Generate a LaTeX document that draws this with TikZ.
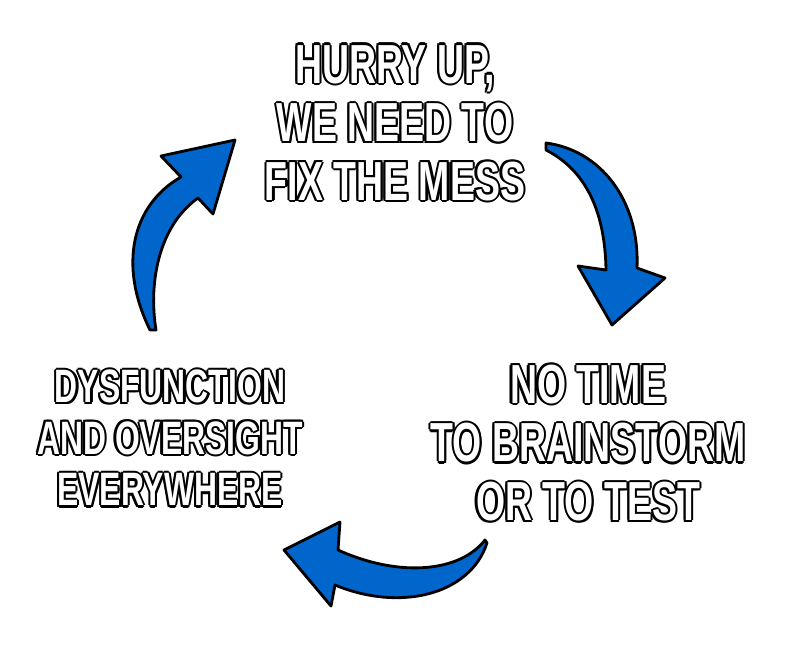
\documentclass[tikz,border=0pt]{standalone}
\usepackage{fontspec}
\setmainfont{Liberation Sans}[FakeStretch=0.68]
\usetikzlibrary{positioning}
\definecolor{arrowblue}{RGB}{0,102,204}
\tikzset{
    cyclearrow/.style = {draw=black, line width=2.4pt, line join=round, fill=arrowblue},
    memetext/.style = {align=center, inner sep=0pt, font=\bfseries\fontsize{47}{50}\selectfont},
    smalltext/.style = {memetext, font=\bfseries\fontsize{40}{44}\selectfont}
}
% outlined caption: black copies all round, white text on top
\newcommand{\outlined}[4]{%
  \foreach \dx/\dy in {1.8/0,-1.8/0,0/1.8,0/-1.8,1.3/1.3,-1.3/1.3,1.3/-1.3,-1.3/-1.3}
    \node[#1, text=black, xshift=\dx pt, yshift=\dy pt] at (#2) {#4};
  \node[#1, text=white] (#3) at (#2) {#4};}

\begin{document}
\begin{tikzpicture}[x=0.03cm, y=-0.03cm]
\useasboundingbox (0,0) rectangle (788,651);

% arrows
\draw[cyclearrow] (546,143) .. controls (600,150) and (640,200) .. (637,268)
    -- (665,278) -- (612,325) -- (578,266) -- (606,270)
    .. controls (605,210) and (585,170) .. (546,150) -- cycle;
\draw[cyclearrow] (150,330) .. controls (118,265) and (132,205) .. (181,177)
    -- (161,156) -- (235,140) -- (213,214) -- (198,198)
    .. controls (160,225) and (148,280) .. (156,330) -- cycle;
\draw[cyclearrow] (487,543) .. controls (470,595) and (400,612) .. (335,585)
    -- (331,606) -- (284,550) -- (340,522) -- (338,550)
    .. controls (400,578) and (460,572) .. (485,540) -- cycle;

% captions
\outlined{memetext}{395,123}{Hurry}{HURRY UP,\\WE NEED TO\\FIX THE MESS}
\outlined{memetext}{588,443}{NoTime}{NO TIME\\TO BRAINSTORM\\OR TO TEST}
\outlined{smalltext}{170,438}{Dysfunction}{DYSFUNCTION\\AND OVERSIGHT\\EVERYWHERE}
\end{tikzpicture}
\end{document}
